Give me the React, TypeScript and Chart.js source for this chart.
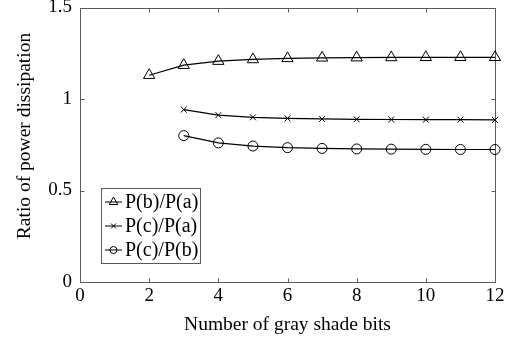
import React, { useEffect, useRef } from "react";
import { Chart, registerables } from "chart.js";

Chart.register(...registerables);

const FONT = "'Liberation Serif', 'Times New Roman', serif";
const AXIS_COLOR = "#5a5a5a";

const bitsAll = [2, 3, 4, 5, 6, 7, 8, 9, 10, 11, 12];
const bitsFrom3 = [3, 4, 5, 6, 7, 8, 9, 10, 11, 12];
const ratioBA = [1.13, 1.185, 1.207, 1.216, 1.222, 1.225, 1.226, 1.227, 1.228, 1.228, 1.228];
const ratioCA = [0.942, 0.912, 0.9, 0.894, 0.891, 0.889, 0.888, 0.887, 0.887, 0.886];
const ratioCB = [0.8, 0.76, 0.743, 0.734, 0.73, 0.727, 0.726, 0.725, 0.724, 0.724];
const seriesLabels = ["P(b)/P(a)", "P(c)/P(a)", "P(c)/P(b)"];
const seriesMarkers = ["triangle", "crossRot", "circle"];
const seriesRadius = [6.5, 4.2, 5];
const xTickValues = [0, 2, 4, 6, 8, 10, 12];
const yTickValues = [0, 0.5, 1, 1.5];
const xAxisTitle = "Number of gray shade bits";
const yAxisTitle = "Ratio of power dissipation";

const toPoints = (xs: number[], ys: number[]) => xs.map((x, i) => ({ x, y: ys[i] }));

function drawMarker(ctx: CanvasRenderingContext2D, style: string, x: number, y: number, r: number) {
  ctx.beginPath();
  if (style === "triangle") {
    let rad = 0;
    ctx.moveTo(x + Math.sin(rad) * r, y - Math.cos(rad) * r);
    rad += (2 * Math.PI) / 3;
    ctx.lineTo(x + Math.sin(rad) * r, y - Math.cos(rad) * r);
    rad += (2 * Math.PI) / 3;
    ctx.lineTo(x + Math.sin(rad) * r, y - Math.cos(rad) * r);
    ctx.closePath();
  } else if (style === "crossRot") {
    const d = r * Math.SQRT1_2;
    ctx.moveTo(x - d, y - d);
    ctx.lineTo(x + d, y + d);
    ctx.moveTo(x - d, y + d);
    ctx.lineTo(x + d, y - d);
  } else {
    ctx.arc(x, y, r, 0, Math.PI * 2);
  }
  ctx.stroke();
}

const framePlugin = {
  id: "frame",
  beforeDatasetsDraw(chart: any) {
    const { ctx, chartArea, scales } = chart;
    const { left, right, top, bottom } = chartArea;
    const L = Math.round(left) + 0.5;
    const R = Math.round(right) + 0.5;
    const T = Math.round(top) + 0.5;
    const B = Math.round(bottom) + 0.5;
    const tl = 4;
    ctx.save();
    ctx.strokeStyle = AXIS_COLOR;
    ctx.lineWidth = 1;
    ctx.beginPath();
    ctx.rect(L, T, R - L, B - T);
    for (const v of xTickValues) {
      const px = Math.round(scales.x.getPixelForValue(v)) + 0.5;
      ctx.moveTo(px, B);
      ctx.lineTo(px, B - tl);
      ctx.moveTo(px, T);
      ctx.lineTo(px, T + tl);
    }
    for (const v of yTickValues) {
      const py = Math.round(scales.y.getPixelForValue(v)) + 0.5;
      ctx.moveTo(L, py);
      ctx.lineTo(L + tl, py);
      ctx.moveTo(R, py);
      ctx.lineTo(R - tl, py);
    }
    ctx.stroke();
    ctx.restore();
  },
};

const legendPlugin = {
  id: "boxLegend",
  afterDraw(chart: any) {
    const { ctx } = chart;
    // y axis title
    ctx.save();
    ctx.translate(25, 136);
    ctx.rotate(-Math.PI / 2);
    ctx.fillStyle = "#000";
    ctx.font = `19.5px ${FONT}`;
    ctx.textAlign = "center";
    ctx.textBaseline = "middle";
    ctx.fillText(yAxisTitle, 0, 0);
    ctx.restore();

    const bx = 101.5, by = 188.5, bw = 99, bh = 75;
    ctx.save();
    ctx.fillStyle = "#ffffff";
    ctx.fillRect(bx, by, bw, bh);
    ctx.strokeStyle = AXIS_COLOR;
    ctx.lineWidth = 1;
    ctx.strokeRect(bx, by, bw, bh);
    const rowH = 24;
    const legendRadius = [5, 3.5, 3.5];
    seriesLabels.forEach((label, i) => {
      const cy = by + 13.5 + i * rowH;
      ctx.strokeStyle = "#000";
      ctx.lineWidth = 1;
      ctx.beginPath();
      ctx.moveTo(105, cy);
      ctx.lineTo(122, cy);
      ctx.stroke();
      drawMarker(ctx, seriesMarkers[i], 113.5, cy, legendRadius[i]);
      ctx.fillStyle = "#000";
      ctx.font = `20px ${FONT}`;
      ctx.textBaseline = "middle";
      ctx.textAlign = "left";
      ctx.fillText(label, 125, cy + 1);
    });
    ctx.restore();
  },
};

export default function App() {
  const ref = useRef<HTMLCanvasElement>(null);
  useEffect(() => {
    document.body.style.margin = "0";
    const seriesData = [
      toPoints(bitsAll, ratioBA),
      toPoints(bitsFrom3, ratioCA),
      toPoints(bitsFrom3, ratioCB),
    ];
    const chart = new Chart(ref.current as HTMLCanvasElement, {
      type: "line",
      data: {
        datasets: seriesLabels.map((label, i) => ({
          label,
          data: seriesData[i],
          borderColor: "#000",
          borderWidth: 1.2,
          pointStyle: seriesMarkers[i] as any,
          pointRadius: seriesRadius[i],
          pointBorderWidth: 1,
          pointBorderColor: "#000",
          pointBackgroundColor: "rgba(0,0,0,0)",
          tension: 0,
          clip: false as any,
        })),
      },
      options: {
        animation: false,
        responsive: false,
        devicePixelRatio: 1,
        layout: { padding: { left: 0, right: 24, top: 7, bottom: 0 } },
        plugins: { legend: { display: false }, tooltip: { enabled: false } },
        scales: {
          x: {
            type: "linear",
            min: 0,
            max: 12,
            grid: { display: false, drawTicks: false },
            border: { display: false },
            afterBuildTicks: (s: any) => {
              s.ticks = xTickValues.map((v) => ({ value: v }));
            },
            afterFit: (s: any) => {
              s.height = 60;
              s.paddingLeft = 0;
              s.paddingRight = 0;
              s.paddingTop = 0;
              s.paddingBottom = 0;
            },
            ticks: {
              color: "#000",
              font: { family: FONT, size: 19 },
              padding: 3,
              maxRotation: 0,
              callback: (v: any) => String(v),
            },
            title: {
              display: true,
              text: xAxisTitle,
              color: "#000",
              font: { family: FONT, size: 19.5 },
              padding: { top: 0, bottom: 5 },
            },
          },
          y: {
            type: "linear",
            min: 0,
            max: 1.5,
            grid: { display: false, drawTicks: false },
            border: { display: false },
            afterBuildTicks: (s: any) => {
              s.ticks = yTickValues.map((v) => ({ value: v }));
            },
            afterFit: (s: any) => {
              s.width = 80;
              s.paddingLeft = 0;
              s.paddingRight = 0;
              s.paddingTop = 0;
              s.paddingBottom = 0;
            },
            ticks: {
              color: "#000",
              font: { family: FONT, size: 19 },
              padding: 8,
              callback: (v: any) => String(v),
            },
            title: { display: false },
          },
        },
      },
      plugins: [framePlugin, legendPlugin],
    });
    return () => chart.destroy();
  }, []);
  return (
    <div style={{ position: "absolute", left: 0, top: 0, width: 519, height: 342, background: "#fff" }}>
      <canvas ref={ref} width={519} height={342} style={{ display: "block" }} />
    </div>
  );
}
